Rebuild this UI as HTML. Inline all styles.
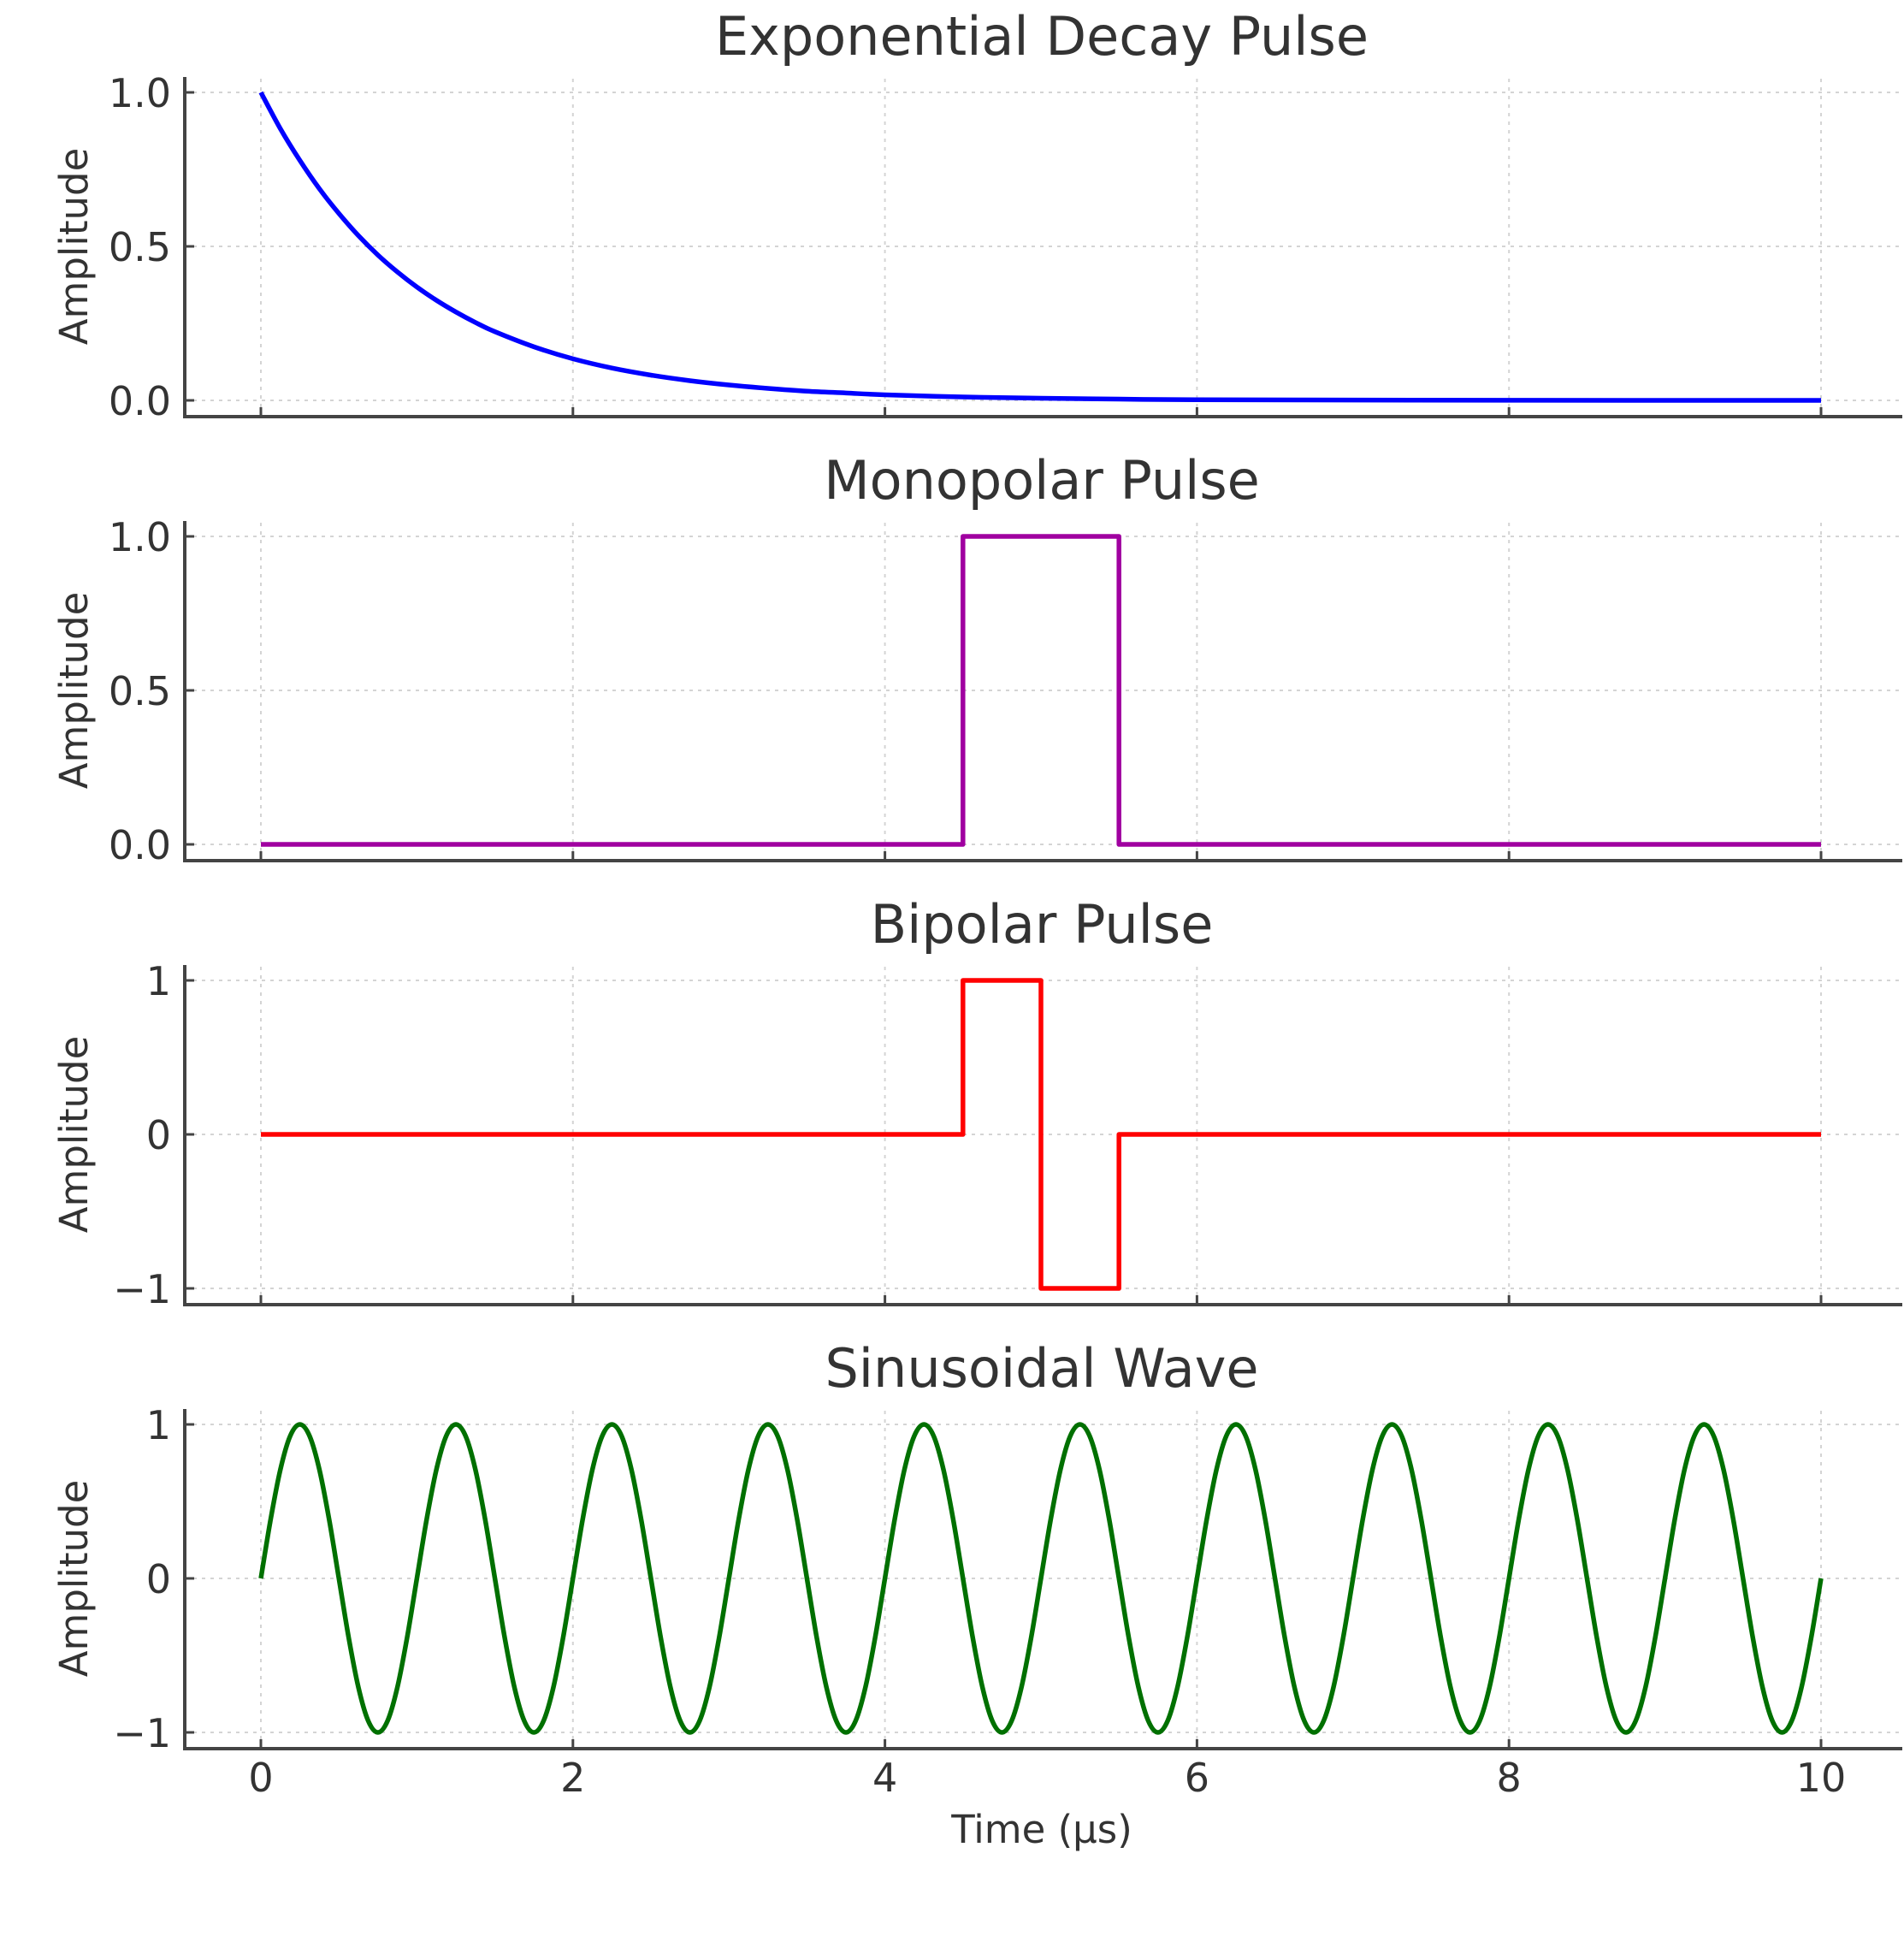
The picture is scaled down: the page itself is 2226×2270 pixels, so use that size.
<!DOCTYPE html>
<html><head><meta charset="utf-8"><style>
html,body{margin:0;padding:0;background:#fff;}
svg{display:block;font-family:"DejaVu Sans","Liberation Sans",sans-serif;}
</style></head><body>
<svg id="chart" width="2226" height="2270" viewBox="0 0 2226 2270" xmlns="http://www.w3.org/2000/svg"></svg>
<script>
// ---- data ----
const xTicks = [0, 2, 4, 6, 8, 10];
const titles = ["Exponential Decay Pulse", "Monopolar Pulse", "Bipolar Pulse", "Sinusoidal Wave"];
const expTimes = [0,0.125,0.25,0.375,0.5,0.625,0.75,0.875,1,1.125,1.25,1.375,1.5,1.75,2,2.25,2.5,2.75,3,3.25,3.5,3.75,4,4.5,5,5.5,6,7,8,9,10];
const expValues = [1,0.882,0.779,0.687,0.607,0.535,0.472,0.417,0.368,0.325,0.287,0.253,0.223,0.174,0.135,0.105,0.082,0.064,0.050,0.039,0.030,0.024,0.018,0.011,0.007,0.004,0.002,0.001,0.0003,0.0001,0];
const monoTimes = [0,4.5,4.5,5.5,5.5,10];
const monoValues = [0,0,1,1,0,0];
const biTimes = [0,4.5,4.5,5,5,5.5,5.5,10];
const biValues = [0,0,1,1,-1,-1,0,0];
const sinCycle = [0,0.383,0.707,0.924,1,0.924,0.707,0.383,0,-0.383,-0.707,-0.924,-1,-0.924,-0.707,-0.383];
const sinTimes = [];
const sinValues = [];
for (let i = 0; i <= 160; i++) { sinTimes.push(i * 0.0625); sinValues.push(sinCycle[i % 16]); }
const yTicksA = [0, 0.5, 1];
const yLabelsA = ["0.0", "0.5", "1.0"];
const yTicksB = [-1, 0, 1];
const yLabelsB = ["\u22121", "0", "1"];

const NS = "http://www.w3.org/2000/svg";
const svg = document.getElementById("chart");
function mk(tag, attrs, parent) {
  const e = document.createElementNS(NS, tag);
  for (const k in attrs) e.setAttribute(k, attrs[k]);
  (parent || svg).appendChild(e);
  return e;
}
const X0 = 305, XU = 182.4, LEFT = 216, RIGHT = 2224;
const sx = t => X0 + t * XU;

const panels = [
  {times: expTimes, vals: expValues, color: "#0000ff", ticks: yTicksA, labels: yLabelsA, smooth: true, name: "exponential-decay"},
  {times: monoTimes, vals: monoValues, color: "#a000a0", ticks: yTicksA, labels: yLabelsA, smooth: false, name: "monopolar"},
  {times: biTimes, vals: biValues, color: "#ff0000", ticks: yTicksB, labels: yLabelsB, smooth: false, name: "bipolar"},
  {times: sinTimes, vals: sinValues, color: "#007000", ticks: yTicksB, labels: yLabelsB, smooth: true, name: "sinusoidal"}
];

panels.forEach((p, k) => {
  const top = 108 + 519 * k, bot = top + 360;
  const ymin = p.ticks[0], ymax = p.ticks[p.ticks.length - 1];
  const sy = v => bot - (v - ymin) / (ymax - ymin) * (bot - top);
  const g = mk("g", {});
  
  
  xTicks.forEach(t => {
    const l = mk("line", {x1: sx(t), x2: sx(t), y1: top - 16, y2: bot + 18, stroke: "#d4d4d4", "stroke-width": 2, "stroke-dasharray": "4 6"}, g);
    
    
  });
  p.ticks.forEach(v => {
    const l = mk("line", {x1: LEFT, x2: RIGHT, y1: sy(v), y2: sy(v), stroke: "#d4d4d4", "stroke-width": 2, "stroke-dasharray": "4 6"}, g);
    
    
  });
  const sp = mk("path", {d: `M${LEFT},${top - 18} L${LEFT},${bot + 19} L${RIGHT},${bot + 19}`, fill: "none", stroke: "#444", "stroke-width": 4}, g);
  
  
  xTicks.forEach(t => {
    const l = mk("line", {x1: sx(t), x2: sx(t), y1: bot + 19, y2: bot + 8, stroke: "#444", "stroke-width": 3}, g);
    
    
  });
  p.ticks.forEach((v, i) => {
    const l = mk("line", {x1: LEFT, x2: LEFT + 11, y1: sy(v), y2: sy(v), stroke: "#444", "stroke-width": 3}, g);
    
    
    const tx = mk("text", {x: 200, y: sy(v) + 17, "text-anchor": "end", "font-size": 46, fill: "#333"}, g);
    tx.textContent = p.labels[i];
    
    
  });
  const yl = mk("text", {x: 0, y: 0, transform: `translate(102,${(top + bot) / 2}) rotate(-90)`, "text-anchor": "middle", "font-size": 45, fill: "#333"}, g);
  yl.textContent = "Amplitude";
  
  
  const tt = mk("text", {x: 1218, y: top - 44, "text-anchor": "middle", "font-size": 62, fill: "#333"}, g);
  tt.textContent = titles[k];
  
  
  const pts = p.times.map((t, i) => [sx(t), sy(p.vals[i])]);
  let d = "M" + pts[0][0] + "," + pts[0][1];
  if (p.smooth) {
    for (let i = 0; i < pts.length - 1; i++) {
      const a = pts[Math.max(0, i - 1)], b = pts[i], c = pts[i + 1], e = pts[Math.min(pts.length - 1, i + 2)];
      const c1x = b[0] + (c[0] - a[0]) / 6, c1y = b[1] + (c[1] - a[1]) / 6;
      const c2x = c[0] - (e[0] - b[0]) / 6, c2y = c[1] - (e[1] - b[1]) / 6;
      d += ` C${c1x},${c1y} ${c2x},${c2y} ${c[0]},${c[1]}`;
    }
  } else {
    for (let i = 1; i < pts.length; i++) d += ` L${pts[i][0]},${pts[i][1]}`;
  }
  const ln = mk("path", {d: d, fill: "none", stroke: p.color, "stroke-width": 5.5, "stroke-linejoin": "round"}, g);
  
  
});

xTicks.forEach(t => {
  const tx = mk("text", {x: sx(t), y: 2094, "text-anchor": "middle", "font-size": 46, fill: "#333"});
  tx.textContent = String(t);
  
  
});
const xl = mk("text", {x: 1218, y: 2154, "text-anchor": "middle", "font-size": 45, fill: "#333"});
xl.textContent = "Time (\u03bcs)";


</script>
</body></html>
